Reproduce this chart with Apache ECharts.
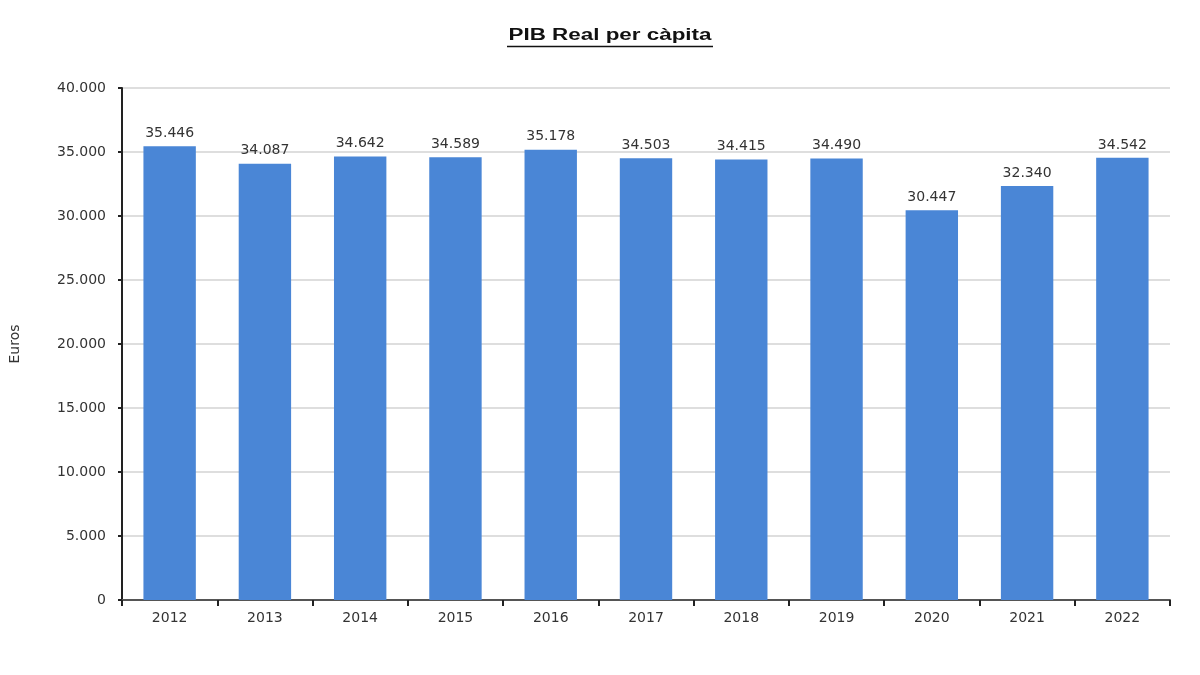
<!DOCTYPE html>
<html>
<head>
<meta charset="utf-8">
<script src="https://cdn.jsdelivr.net/npm/echarts@6/dist/echarts.min.js"></script>
<style>html,body{margin:0;padding:0;background:#fff;}#c{width:1200px;height:675px;}</style>
</head>
<body>
<div id="c"></div>
<script>
const categories = ['2012','2013','2014','2015','2016','2017','2018','2019','2020','2021','2022'];
const values = [35446, 34087, 34642, 34589, 35178, 34503, 34415, 34490, 30447, 32340, 34542];
const titleText = 'PIB Real per càpita';
const yName = 'Euros';

function fmt(v){
  return String(Math.round(v)).replace(/\B(?=(\d{3})+(?!\d))/g, '.');
}

const FONT = 'DejaVu Sans, Liberation Sans, Arial';
const chart = echarts.init(document.getElementById('c'));
chart.setOption({
  backgroundColor: '#fff',
  animation: false,
  graphic: [{
    type: 'text', x: 610, y: 36, scaleX: 1.4, scaleY: 1,
    style: { text: titleText, fill: '#111', font: 'bold 16px Liberation Sans, Arial', align: 'center', verticalAlign: 'middle' }
  }, {
    type: 'line', shape: { x1: 507, y1: 46.5, x2: 713, y2: 46.5 },
    style: { stroke: '#111', lineWidth: 1.5 }
  }],
  grid: { left: 120, right: 30, top: 88, bottom: 75 },
  xAxis: {
    type: 'category',
    data: categories,
    axisLine: { lineStyle: { color: '#555', width: 2 } },
    axisTick: { show: true, alignWithLabel: false, length: 6, lineStyle: { color: '#222', width: 2 } },
    axisLabel: { color: '#333', fontFamily: FONT, fontSize: 14, margin: 11 }
  },
  yAxis: {
    type: 'value', min: 0, max: 40000, interval: 5000,
    name: yName, nameLocation: 'middle', nameGap: 100, nameRotate: 90,
    nameTextStyle: { color: '#333', fontFamily: FONT, fontSize: 14 },
    axisLine: { show: true, lineStyle: { color: '#222', width: 2 } },
    axisTick: { show: true, length: 4, lineStyle: { color: '#222', width: 2 } },
    splitLine: { lineStyle: { color: '#dedede', width: 2 } },
    axisLabel: { color: '#333', fontFamily: FONT, fontSize: 14, margin: 16, formatter: fmt }
  },
  series: [{
    type: 'bar',
    data: values,
    barWidth: '55%',
    itemStyle: { color: '#4a86d6' },
    label: { show: true, position: 'top', distance: 6, color: '#333', fontFamily: FONT, fontSize: 14, formatter: p => fmt(p.value) }
  }]
});
</script>
</body>
</html>
